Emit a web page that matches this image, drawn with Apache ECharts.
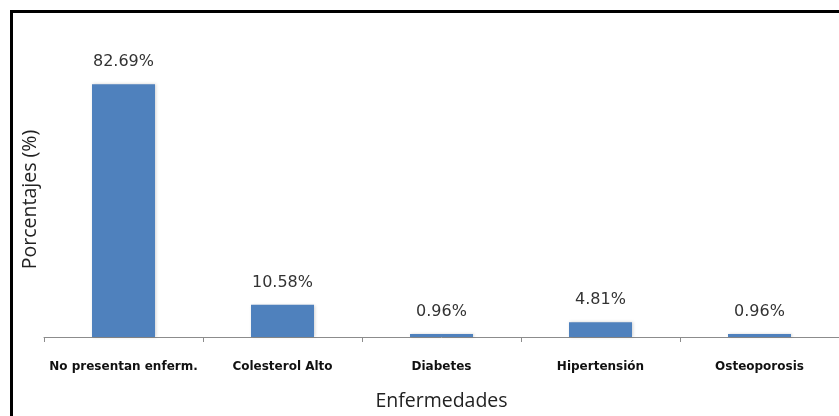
<!DOCTYPE html>
<html>
<head>
<meta charset="utf-8">
<script src="https://cdn.jsdelivr.net/npm/echarts@6/dist/echarts.min.js"></script>
<style>
html,body{margin:0;padding:0;background:#fff;}
#c{width:839px;height:416px;}
</style>
</head>
<body>
<div id="c"></div>
<script>
const categories = ["No presentan enferm.", "Colesterol Alto", "Diabetes", "Hipertensión", "Osteoporosis"];
const values = [82.69, 10.58, 0.96, 4.81, 0.96];
const xAxisTitle = "Enfermedades";
const yAxisTitle = "Porcentajes (%)";

const chart = echarts.init(document.getElementById('c'), null, {renderer: 'canvas'});
chart.setOption({
  animation: false,
  backgroundColor: '#ffffff',
  graphic: [{
    type: 'polyline',
    shape: {points: [[11.5, 420], [11.5, 11.5], [845, 11.5]]},
    style: {stroke: '#000', lineWidth: 3, fill: null},
    silent: true
  }],
  grid: {left: 44, right: 0, top: 62, bottom: 73, containLabel: false},
  xAxis: {
    type: 'category',
    data: categories,
    name: xAxisTitle,
    nameLocation: 'middle',
    nameGap: 54,
    nameTextStyle: {fontFamily: 'Open Sans', fontSize: 19.5, color: '#222'},
    axisLine: {lineStyle: {color: '#8c8c8c', width: 1}},
    axisTick: {show: true, length: 5, lineStyle: {color: '#8c8c8c'}},
    axisLabel: {
      interval: 0,
      margin: 24,
      fontFamily: 'DejaVu Sans',
      fontWeight: 'bold',
      fontSize: 12,
      color: '#111'
    }
  },
  yAxis: {
    type: 'value',
    min: 0,
    max: 90,
    name: yAxisTitle,
    nameLocation: 'middle',
    nameGap: 4,
    nameTextStyle: {fontFamily: 'Open Sans', fontSize: 19.5, color: '#222'},
    axisLine: {show: false},
    axisTick: {show: false},
    axisLabel: {show: false},
    splitLine: {show: false}
  },
  series: [{
    type: 'bar',
    data: values,
    barWidth: 63,
    itemStyle: {
      color: '#4f81bd',
      shadowColor: 'rgba(0,0,0,0.18)',
      shadowBlur: 3,
      shadowOffsetX: 1
    },
    label: {
      show: true,
      position: 'top',
      distance: 14,
      formatter: p => p.value.toFixed(2) + '%',
      fontFamily: 'DejaVu Sans',
      fontSize: 16,
      color: '#333'
    }
  }]
});
</script>
</body>
</html>
